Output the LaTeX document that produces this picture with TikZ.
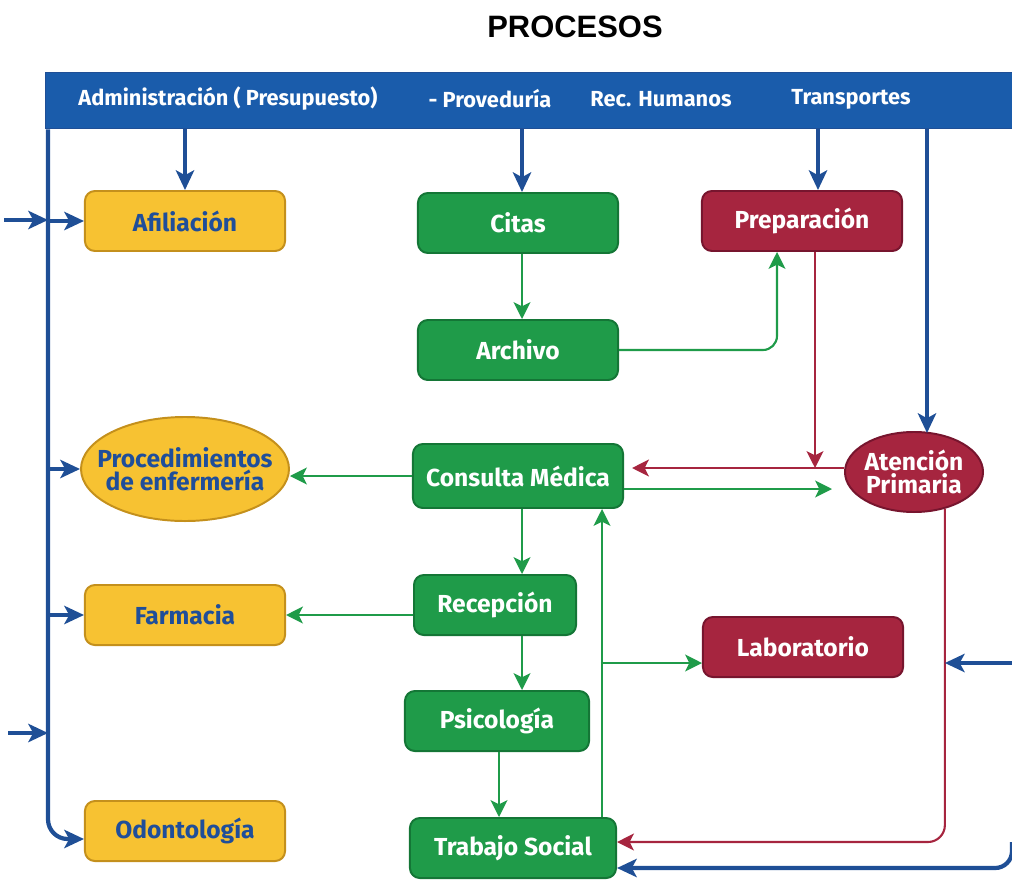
\documentclass[tikz,border=0pt]{standalone}
\usepackage{fontspec}
\setmainfont{Fira Sans}
\newfontfamily\titlefont{Liberation Sans}
\usetikzlibrary{positioning}
\usetikzlibrary{shapes.geometric}
\usetikzlibrary{arrows.meta}
\usetikzlibrary{calc}
\usepackage{xcolor}

\definecolor{barblue}{HTML}{1A5CAB}
\definecolor{lineblue}{HTML}{1F4F96}
\definecolor{boxyellow}{HTML}{F7C232}
\definecolor{edgeyellow}{HTML}{C4901C}
\definecolor{txtblue}{HTML}{1F4E9A}
\definecolor{boxgreen}{HTML}{1F9B49}
\definecolor{edgegreen}{HTML}{147636}
\definecolor{boxred}{HTML}{A6253F}
\definecolor{edgered}{HTML}{77152E}

\begin{document}
\begin{tikzpicture}[
  x=0.025cm, y=-0.025cm,
  font=\fontsize{17.5}{19}\selectfont\bfseries,
  ybox/.style={draw=edgeyellow, fill=boxyellow, text=txtblue, rounded corners=7pt, line width=1.4pt, minimum width=5cm, minimum height=1.5cm, align=center},
  gbox/.style={draw=edgegreen, fill=boxgreen, text=white, rounded corners=7pt, line width=1.4pt, minimum height=1.5cm, align=center},
  rbox/.style={draw=edgered, fill=boxred, text=white, rounded corners=7pt, line width=1.4pt, minimum width=5cm, minimum height=1.5cm, align=center},
  yoval/.style={ellipse, draw=edgeyellow, fill=boxyellow, text=txtblue, line width=1.4pt, inner sep=-10pt, align=center},
  roval/.style={ellipse, draw=edgered, fill=boxred, text=white, line width=1.4pt, inner sep=-10pt, align=center},
  bar/.style={fill=barblue, draw=lineblue, line width=1pt, inner sep=0pt, minimum width=24.175cm, minimum height=1.4cm},
  barlabel/.style={text=white, font=\fontsize{15.5}{17}\selectfont\bfseries},
  bluearrow/.style={draw=lineblue, line width=3pt, -{Stealth[length=14pt, width=13pt, inset=3.5pt]}},
  greenarrow/.style={draw=boxgreen, line width=1.5pt, -{Stealth[length=12pt, width=12pt, inset=3pt]}},
  redarrow/.style={draw=boxred, line width=1.5pt, -{Stealth[length=12pt, width=12pt, inset=3pt]}}
]
\useasboundingbox (0,0) rectangle (1012,881);

\node[font=\titlefont\fontsize{22}{26}\selectfont\bfseries] (title) at (575,27) {PROCESOS};

\node[bar, anchor=north west] (bar) at (45,72) {};
\node[barlabel] (adm) at (228,99) {Administración ( Presupuesto)};
\node[barlabel] (prov) at (490,99) {- Proveduría};
\node[barlabel] (rrhh) at (661,99) {Rec. Humanos};
\node[barlabel] (transp) at (851,99) {Transportes};

\node[ybox] (afil) at (185,221) {Afiliación};
\node[yoval, minimum width=5.1cm, minimum height=2.6cm] (proc) at (185,469) {Procedimientos\\[-3pt]de enfermería};
\node[ybox] (farm) at (185,615) {Farmacia};
\node[ybox] (odon) at (185,831) {Odontología};

\node[gbox, minimum width=5cm] (citas) at (518,223) {Citas};
\node[gbox, minimum width=5cm] (archivo) at (518,350) {Archivo};
\node[gbox, minimum width=5.25cm, minimum height=1.6cm] (consulta) at (518,476) {Consulta Médica};
\node[gbox, minimum width=4.05cm] (recep) at (495,605) {Recepción};
\node[gbox, minimum width=4.6cm] (psico) at (497,721) {Psicología};
\node[gbox, minimum width=5.15cm] (trab) at (513,848) {Trabajo Social};

\node[rbox] (prep) at (802,221) {Preparación};
\node[rbox] (lab) at (803,647) {Laboratorio};
\node[roval, minimum width=3.45cm, minimum height=2cm] (aten) at (914,472) {Atención\\[-3pt]Primaria};

\coordinate (lspine) at ($(bar.south west)+(3,0)$);
\coordinate (tAdm) at (afil.north |- bar.south);
\coordinate (tCitas) at ($(citas.north)+(4,0)$);
\coordinate (tPrep) at ($(prep.north)+(16,0)$);
\coordinate (tAten) at ($(aten.north)+(13,2)$);
\coordinate (tPsico) at ($(psico.south)+(2,0)$);
\coordinate (tRed) at ($(prep.south)+(13,0)$);
\coordinate (inA) at (4,220);
\coordinate (inB) at (8,733);
\coordinate (inC) at (1012,663);
\coordinate (inD) at (1012,842);
\coordinate (rspine) at (aten.-50);
\coordinate (upline) at ($(trab.north)+(89,0)$);

\draw[bluearrow] (tAdm) -- (afil.north);
\draw[bluearrow] (tCitas |- bar.south) -- (tCitas);
\draw[bluearrow] (tPrep |- bar.south) -- (tPrep);
\draw[bluearrow] (tAten |- bar.south) -- (tAten);

\draw[bluearrow, rounded corners=14pt] (lspine) |- ($(odon.west)+(0,8)$);
\draw[bluearrow] (inA) -- (lspine |- inA);
\draw[bluearrow] (lspine |- afil.west) -- (afil.west);
\draw[bluearrow] (lspine |- proc.west) -- (proc.west);
\draw[bluearrow] (lspine |- farm.west) -- (farm.west);
\draw[bluearrow] (inB) -- (lspine |- inB);

\draw[greenarrow] (citas.south -| tCitas) -- (archivo.north -| tCitas);
\draw[greenarrow, rounded corners=10pt] (archivo.east) -| ($(prep.south)+(-25,0)$);
\draw[redarrow] (tRed) -- (tRed |- {$(aten.west)+(0,-4)$});
\draw[redarrow] ($(aten.west)+(0,-4)$) -- ($(consulta.east)+(8,-8)$);
\draw[greenarrow] ($(consulta.east)+(0,13)$) -- ($(aten.west)+(-12,17)$);
\draw[greenarrow] (consulta.west) -- (consulta.west -| proc.east);

\draw[greenarrow] (consulta.south -| tCitas) -- (recep.north -| tCitas);
\draw[greenarrow] ($(recep.west)+(0,10)$) -- (farm.east);
\draw[greenarrow] (recep.south -| tCitas) -- (psico.north -| tCitas);
\draw[greenarrow] (tPsico) -- (tPsico |- trab.north);
\draw[greenarrow] (upline) -- (upline |- consulta.south);
\draw[greenarrow] ($(lab.west)+(-101,16)$) -- ($(lab.west)+(0,16)$);

\draw[redarrow, rounded corners=12pt] (rspine) |- ($(trab.east)+(0,-6)$);
\draw[bluearrow] (inC) -- (inC -| rspine);
\draw[bluearrow, rounded corners=12pt] (inD) |- ($(trab.east)+(0,20)$);

\end{tikzpicture}
\end{document}
